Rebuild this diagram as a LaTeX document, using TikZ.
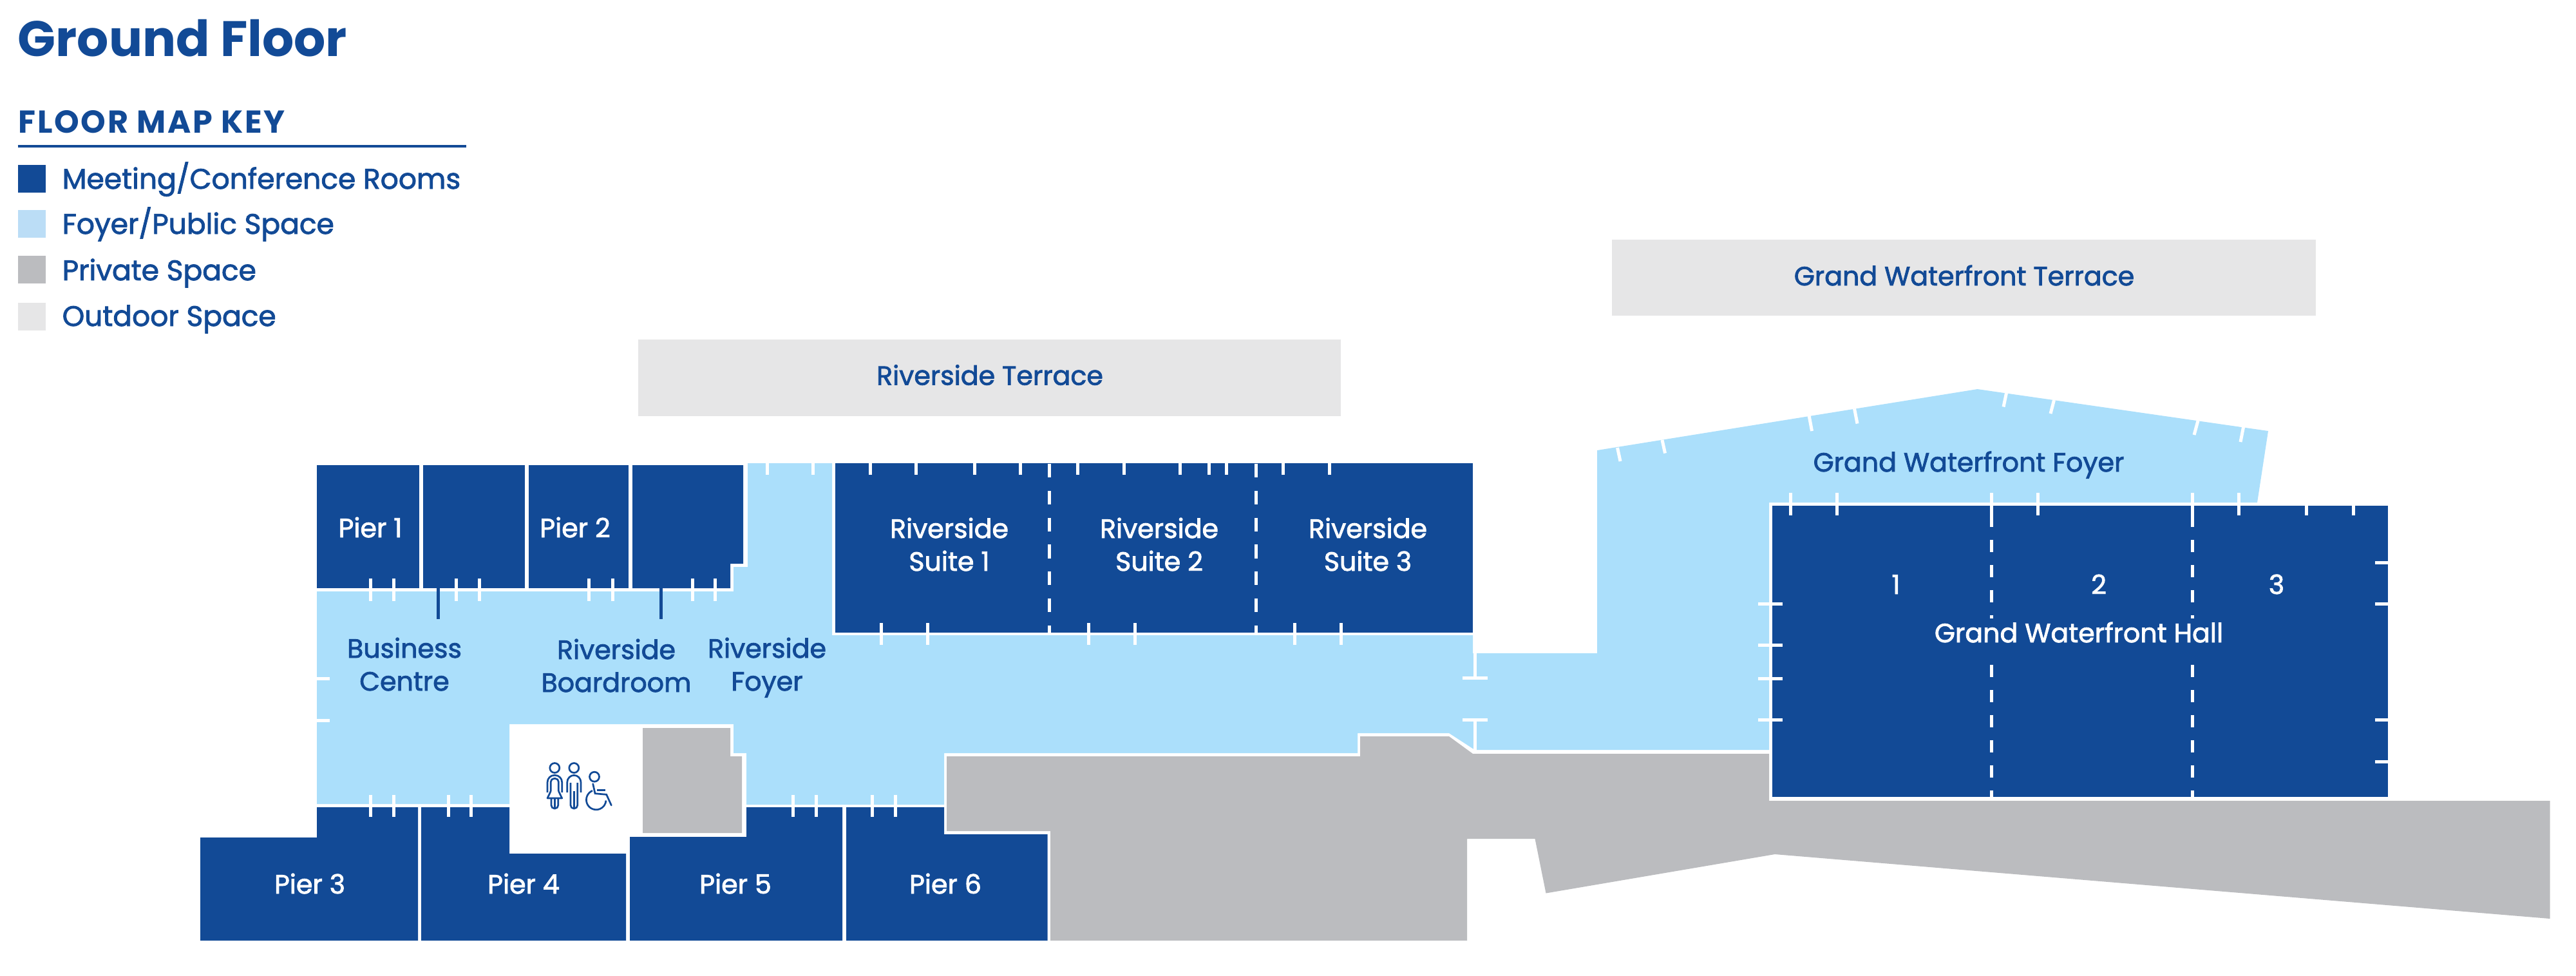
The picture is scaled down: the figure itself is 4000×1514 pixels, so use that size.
\documentclass[tikz,border=0pt]{standalone}
\usepackage{fontspec}
\setmainfont{Poppins}[FakeBold=2,BoldFeatures={FakeBold=0}]
\usepackage{xcolor}
\definecolor{roomblue}{RGB}{18,74,150}
\definecolor{foyerblue}{RGB}{171,223,251}
\definecolor{keyfoyer}{RGB}{187,221,246}
\definecolor{privategrey}{RGB}{187,188,191}
\definecolor{outdoorgrey}{RGB}{230,230,231}
\tikzstyle{spacetext} = [inner sep=0pt,text height=0.3cm,text depth=0pt,align=center,font=\fontsize{11.7}{14.5}\selectfont]
\tikzstyle{roomname} = [spacetext,text=white]
\tikzstyle{foyername} = [spacetext,text=roomblue]
\tikzstyle{keytext} = [inner sep=0pt,text height=0.3cm,text depth=0pt,anchor=west,text=roomblue,font=\fontsize{12.5}{14}\selectfont]
\tikzstyle{doormark} = [white,line width=0.05cm]
\tikzstyle{partition} = [white,line width=0.05cm,dash pattern=on 0.21cm off 0.208cm]
\tikzstyle{hallpartition} = [white,line width=0.05cm,dash pattern=on 0.19cm off 0.2cm]
\tikzstyle{pictogram} = [roomblue,line width=0.027cm]
\begin{document}
\begin{tikzpicture}[x=0.01cm,y=-0.01cm]
\useasboundingbox (0,0) rectangle (4000,1514);

% Title and key
\node[anchor=west,inner sep=0pt,text height=0.55cm,text depth=0pt,text=roomblue,font=\fontsize{22}{24}\selectfont\bfseries] (title) at (27,59.5) {Ground Floor};
\node[anchor=west,inner sep=0pt,text height=0.31cm,text depth=0pt,text=roomblue,font=\fontsize{14}{16}\selectfont\bfseries\addfontfeature{LetterSpace=5.5}] (keytitle) at (28,190.5) {FLOOR MAP KEY};
\draw[roomblue,line width=0.04cm] (27.5,227) -- (723.5,227);
\fill[roomblue] (27.5,256) rectangle (70.5,298.5);
\fill[keyfoyer] (27.5,326) rectangle (70.5,369);
\fill[privategrey] (27.5,397) rectangle (70.5,440);
\fill[outdoorgrey] (27.5,470) rectangle (70.5,513);
\node[keytext] (keymeeting) at (96,278) {Meeting/Conference Rooms};
\node[keytext] (keyfoyerspace) at (96,348) {Foyer/Public Space};
\node[keytext] (keyprivate) at (96,420) {Private Space};
\node[keytext] (keyoutdoor) at (96,491) {Outdoor Space};

% Terraces
\fill[outdoorgrey] (990.5,526.5) rectangle (2082,645.5);
\fill[outdoorgrey] (2503,372) rectangle (3596,490);
\node[foyername] (riverterrace) at (1537,582.5) {Riverside Terrace};
\node[foyername] (grandterrace) at (3050,428) {Grand Waterfront Terrace};

% Foyers
\fill[foyerblue] (492,918) -- (1139,918) -- (1139,880) -- (1161,880) -- (1161,719) -- (1292,719)
  -- (1292,986) -- (2287,986) -- (2287,1014) -- (2480,1014) -- (2480,699) -- (3070.5,604)
  -- (3522,669) -- (3505,780) -- (2747,780) -- (2747,1164) -- (2290,1164) -- (2250,1138)
  -- (2108,1138) -- (2108,1169) -- (1466,1169) -- (1466,1249) -- (1159,1249) -- (1159,1169)
  -- (1139,1169) -- (1139,1124) -- (791,1124) -- (791,1248) -- (492,1248) -- cycle;

% Private space
\fill[privategrey] (998,1130) -- (1134,1130) -- (1134,1174) -- (1152,1174) -- (1152,1293) -- (998,1293) -- cycle;
\fill[privategrey] (1470,1174) -- (2112,1174) -- (2112,1143) -- (2250,1143) -- (2287,1170)
  -- (2747,1170) -- (2747,1243) -- (3959.5,1243) -- (3959.5,1426) -- (2756,1326) -- (2400.5,1386.5)
  -- (2383.5,1302) -- (2278,1302) -- (2278,1460) -- (1631,1460) -- (1631,1290) -- (1470,1290) -- cycle;

% Upper rooms
\fill[roomblue] (492,722) rectangle (650.5,913);
\fill[roomblue] (657,722) rectangle (814.5,913);
\fill[roomblue] (821,722) rectangle (976,913);
\fill[roomblue] (982,722) -- (1154,722) -- (1154,875) -- (1134,875) -- (1134,913) -- (982,913) -- cycle;

% Lower rooms
\fill[roomblue] (492,1253) -- (649,1253) -- (649,1460) -- (311,1460) -- (311,1300) -- (492,1300) -- cycle;
\fill[roomblue] (654,1253) -- (791,1253) -- (791,1325) -- (972,1325) -- (972,1460) -- (654,1460) -- cycle;
\fill[roomblue] (978,1299) -- (1159,1299) -- (1159,1253) -- (1308,1253) -- (1308,1460) -- (978,1460) -- cycle;
\fill[roomblue] (1314,1253) -- (1466,1253) -- (1466,1295) -- (1626.5,1295) -- (1626.5,1460) -- (1314,1460) -- cycle;

% Suites and hall
\fill[roomblue] (1297,719) rectangle (2287,981.5);
\fill[roomblue] (2752,785) rectangle (3708,1237);

% Sliding walls
\foreach \x in {1629,1950}
  \draw[partition] (\x,720) -- (\x,986);
\foreach \x in {3092,3404} {
  \draw[hallpartition] (\x,799) -- (\x,960);
  \draw[hallpartition] (\x,1032) -- (\x,1240);
}

% Doors
\foreach \x in {575,611,708.5,744,914.5,951,1075,1110}
  \draw[doormark] (\x,898) -- (\x,932.5);
\foreach \x in {575,611,696,731.5,1231,1267,1354,1390}
  \draw[doormark] (\x,1233.5) -- (\x,1268);
\foreach \x in {1191,1262,1351,1422,1513,1584,1673,1745,1832,1877,1904,1992,2064}
  \draw[doormark] (\x,719) -- (\x,737);
\foreach \x in {1368,1440,1690,1762,2010,2082.5}
  \draw[doormark] (\x,967) -- (\x,1001);
\foreach \x in {2780,2852,3092,3164,3404,3476}
  \draw[doormark] (\x,765) -- (\x,800);
\foreach \x in {3581,3654}
  \draw[doormark] (\x,785) -- (\x,800);
\foreach \y in {1053.5,1118}
  \draw[doormark] (492,\y) -- (511.5,\y);
\foreach \y in {937,1001,1053,1117}
  \draw[doormark] (2730,\y) -- (2767.5,\y);
\foreach \y in {873,937,1117,1182}
  \draw[doormark] (3688,\y) -- (3708,\y);
\foreach \x in {680,1026}
  \draw[roomblue,line width=0.05cm] (\x,913) -- (\x,960.5);
\draw[doormark] (2271,1052.5) -- (2310,1052.5);
\draw[doormark] (2271,1117) -- (2310,1117);
\draw[doormark] (2290.5,1014) -- (2290.5,1052.5);
\draw[doormark] (2290.5,1117) -- (2290.5,1165);
\draw[doormark] (2511.5,695) -- (2516,716);
\draw[doormark] (2581,683) -- (2585.5,703.5);
\draw[doormark] (2809,645) -- (2813.5,669);
\draw[doormark] (2879.5,634.5) -- (2884,657.5);
\draw[doormark] (3115.5,610) -- (3111,631.5);
\draw[doormark] (3189.5,621) -- (3184,642);
\draw[doormark] (3413,653) -- (3407,675);
\draw[doormark] (3483.5,663) -- (3479,686);

% Washrooms
\draw[pictogram] (861.3,1192) circle (7.5);
\draw[pictogram] (891.3,1192) circle (7.5);
\draw[pictogram] (923,1205.7) circle (7.5);
\draw[pictogram,rounded corners=0.11cm] (850,1230) -- (850,1203.3) -- (872.7,1203.3) -- (872.7,1230);
\draw[pictogram,rounded corners=0.05cm] (855.3,1228) -- (855.3,1208.5) -- (867.3,1208.5) -- (867.3,1228);
\draw[pictogram,line join=round] (855.3,1228) -- (850,1239) -- (872.7,1239) -- (867.3,1228);
\draw[pictogram,rounded corners=0.05cm] (856,1239) -- (856,1255) -- (866.7,1255) -- (866.7,1239);
\draw[pictogram] (861.3,1239) -- (861.3,1255);
\draw[pictogram,rounded corners=0.11cm] (880.7,1230) -- (880.7,1203.3) -- (902,1203.3) -- (902,1230);
\draw[pictogram,rounded corners=0.05cm] (886,1215) -- (886,1255) -- (896.7,1255) -- (896.7,1215);
\draw[pictogram] (891.3,1228) -- (891.3,1255);
\draw[pictogram,line cap=round] (920.7,1216.7) -- (924,1231.7) -- (941.7,1233.3) -- (949.3,1250);
\draw[pictogram] (927.3,1226.7) -- (940,1226.7);
\draw[pictogram] (920,1227.3) arc[start angle=112,end angle=356,radius=0.153cm];

% Labels
\node[roomname] (pierone) at (575,819) {Pier 1};
\node[roomname] (piertwo) at (893,819) {Pier 2};
\node[roomname] (pierthree) at (481,1372) {Pier 3};
\node[roomname] (pierfour) at (813,1372) {Pier 4};
\node[roomname] (pierfive) at (1142,1372) {Pier 5};
\node[roomname] (piersix) at (1468,1372) {Pier 6};
\node[roomname] (suiteone) at (1474,871) {Riverside\\Suite 1};
\node[roomname] (suitetwo) at (1800,871) {Riverside\\Suite 2};
\node[roomname] (suitethree) at (2124,871) {Riverside\\Suite 3};
\node[foyername] (business) at (628,1057) {Business\\Centre};
\node[foyername] (boardroom) at (957,1059) {Riverside\\Boardroom};
\node[foyername] (riverfoyer) at (1191,1057) {Riverside\\Foyer};
\node[foyername] (grandfoyer) at (3057,717) {Grand Waterfront Foyer};
\node[roomname] (hallone) at (2944,907) {1};
\node[roomname] (halltwo) at (3259,907) {2};
\node[roomname] (hallthree) at (3535,907) {3};
\node[roomname] (grandhall) at (3228,982) {Grand Waterfront Hall};
\end{tikzpicture}
\end{document}
